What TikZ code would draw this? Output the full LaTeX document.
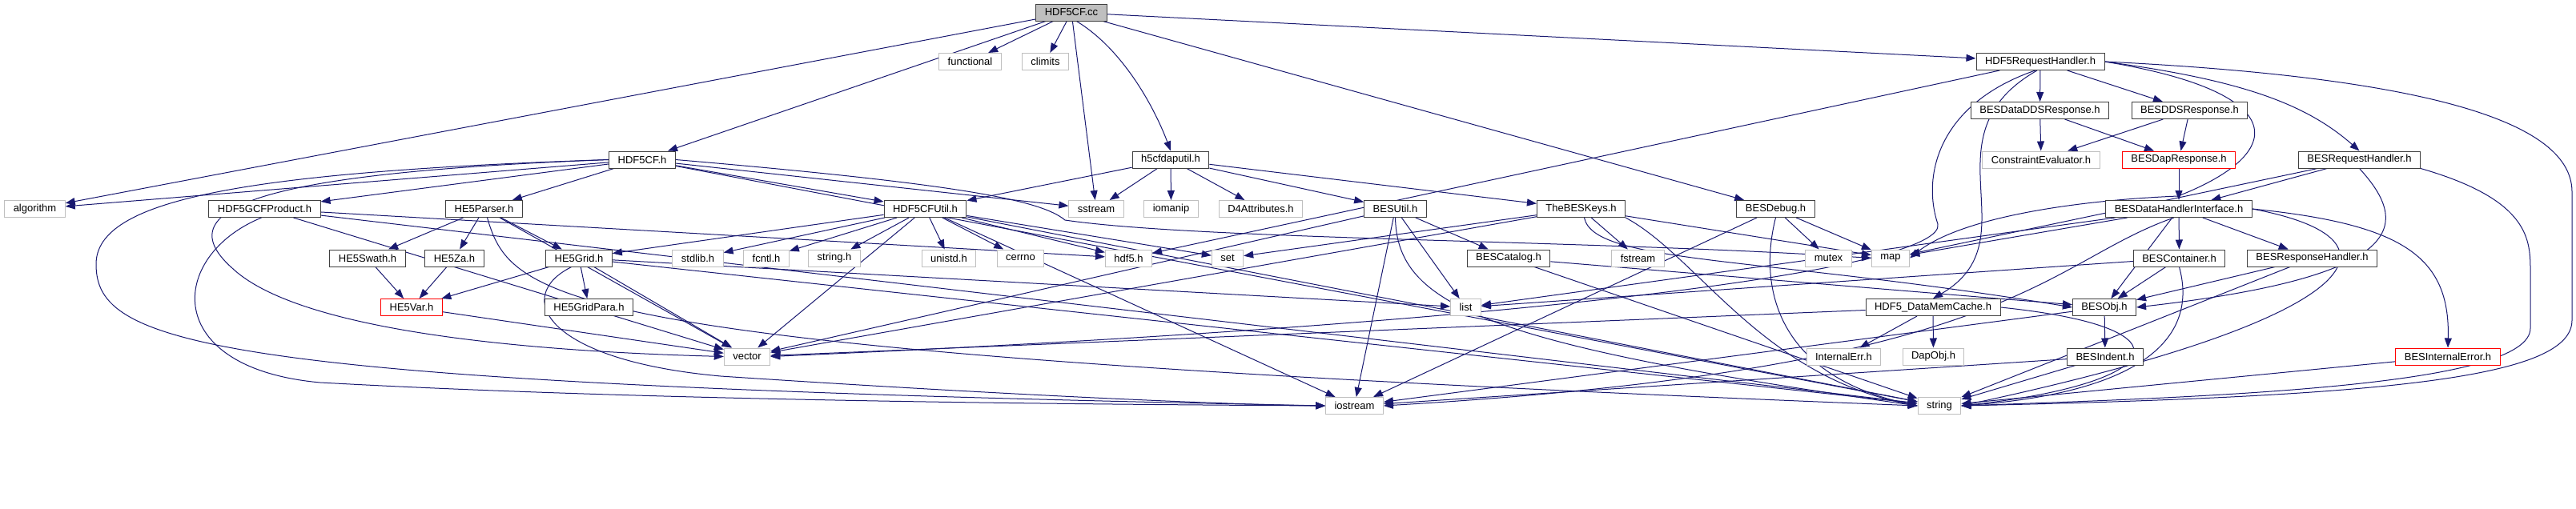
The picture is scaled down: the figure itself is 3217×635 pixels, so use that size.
\documentclass[tikz,border=0pt]{standalone}
\usepackage{fontspec}
\setmainfont{Liberation Sans}
\usetikzlibrary{arrows.meta,backgrounds}
\definecolor{dxblue}{HTML}{191970}

\begin{document}
\begin{tikzpicture}
[x=1pt, y=-1pt, font=\fontsize{13}{15}\selectfont, >={Triangle[length=12pt,width=9pt]}]
\tikzstyle{file}=[draw=black!75, line width=1pt, fill=white, inner xsep=11pt, inner ysep=0pt, minimum height=21pt]
\tikzstyle{sys}=[file, draw=black!25]
\tikzstyle{bad}=[file, draw=red]
\tikzstyle{root}=[file, fill=black!25]
\tikzstyle{inc}=[->, draw=dxblue, line width=1pt]
\useasboundingbox (0,0) rectangle (3217,635);

\node[root]	(cc)	at (1338,15.5)	{HDF5CF.cc};

\node[sys]	(functional)	at (1211.5,77)	{functional};
\node[sys]	(climits)	at (1305.5,77)	{climits};
\node[file]	(reqh)	at (2548,77)	{HDF5RequestHandler.h};

\node[file]	(ddsdata)	at (2547.5,138)	{BESDataDDSResponse.h};
\node[file]	(ddsresp)	at (2734.5,138)	{BESDDSResponse.h};

\node[file]	(hcf)	at (802,199.5)	{HDF5CF.h};
\node[file]	(daputil)	at (1462,199.5)	{h5cfdaputil.h};
\node[sys]	(constr)	at (2549,199.5)	{ConstraintEvaluator.h};
\node[bad]	(dapresp)	at (2721,199.5)	{BESDapResponse.h};
\node[file]	(breqh)	at (2946.5,199.5)	{BESRequestHandler.h};

\node[sys]	(algorithm)	at (43.5,261)	{algorithm};
\node[file]	(gcf)	at (330.5,261)	{HDF5GCFProduct.h};
\node[file]	(parser)	at (604.5,261)	{HE5Parser.h};
\node[file]	(cfutil)	at (1155.5,261)	{HDF5CFUtil.h};
\node[sys]	(sstream)	at (1369,261)	{sstream};
\node[sys]	(iomanip)	at (1462.5,261)	{iomanip};
\node[sys]	(d4attr)	at (1574.5,261)	{D4Attributes.h};
\node[file]	(besutil)	at (1742.5,261)	{BESUtil.h};
\node[file]	(keys)	at (1974.5,261)	{TheBESKeys.h};
\node[file]	(debug)	at (2217.5,261)	{BESDebug.h};
\node[file]	(dhi)	at (2721,261)	{BESDataHandlerInterface.h};

\node[file]	(swath)	at (459,322.5)	{HE5Swath.h};
\node[file]	(za)	at (567.5,322.5)	{HE5Za.h};
\node[file]	(grid)	at (723,322.5)	{HE5Grid.h};
\node[sys]	(stdlib)	at (871.5,322.5)	{stdlib.h};
\node[sys]	(fcntl)	at (957,322.5)	{fcntl.h};
\node[sys]	(strh)	at (1042,322.5)	{string.h};
\node[sys]	(unistd)	at (1185,322.5)	{unistd.h};
\node[sys]	(cerrno)	at (1274.5,322.5)	{cerrno};
\node[sys]	(hdf5)	at (1409.5,322.5)	{hdf5.h};
\node[sys]	(set)	at (1533,322.5)	{set};
\node[file]	(catalog)	at (1884,322.5)	{BESCatalog.h};
\node[sys]	(fstream)	at (2045.5,322.5)	{fstream};
\node[sys]	(mutex)	at (2283.5,322.5)	{mutex};
\node[sys]	(map)	at (2361,322.5)	{map};
\node[file]	(container)	at (2721.5,322.5)	{BESContainer.h};
\node[file]	(resph)	at (2887.5,322.5)	{BESResponseHandler.h};

\node[bad]	(var)	at (514,384)	{HE5Var.h};
\node[file]	(gridpara)	at (735.5,384)	{HE5GridPara.h};
\node[sys]	(list)	at (1830.5,384)	{list};
\node[file]	(memcache)	at (2414,384)	{HDF5\_DataMemCache.h};
\node[file]	(obj)	at (2628,384)	{BESObj.h};

\node[sys]	(vector)	at (933,445.5)	{vector};
\node[sys]	(interr)	at (2302.5,445.5)	{InternalErr.h};
\node[sys]	(dapobj)	at (2414.5,445.5)	{DapObj.h};
\node[file]	(indent)	at (2629,445.5)	{BESIndent.h};
\node[bad]	(besinterr)	at (3057,445.5)	{BESInternalError.h};

\node[sys]	(iostream)	at (1691.5,507)	{iostream};
\node[sys]	(string)	at (2422,507)	{string};

\begin{pgfonlayer}{background}
% HDF5CF.cc
\draw[inc] (cc) -- (algorithm);
\draw[inc] (cc) -- (functional);
\draw[inc] (cc) -- (climits);
\draw[inc] (cc) -- (sstream);
\draw[inc] (cc) -- (hcf);
\draw[inc] (cc.-60) .. controls (1400,60) and (1440,130) .. (daputil.north);
\draw[inc] (cc) -- (reqh);
\draw[inc] (cc) -- (debug);

% HDF5CF.h
\draw[inc] (hcf) -- (algorithm);
\draw[inc] (hcf) -- (gcf);
\draw[inc] (hcf) -- (parser);
\draw[inc] (hcf) -- (cfutil);
\draw[inc] (hcf) -- (sstream);
\draw[inc] (hcf.east) .. controls (1200,230) and (1300,250) .. (1330,275) .. controls (1500,300) and (2000,300) .. (map.west);
\draw[inc] (hcf) -- (string);
\draw[inc] (hcf.west) .. controls (350,215) and (200,255) .. (290,335) .. controls (380,420) and (700,440) .. (vector.west);
\draw[inc] (hcf.west) .. controls (300,215) and (120,250) .. (120,330) .. controls (120,430) and (250,480) .. (iostream.west);

% HDF5GCFProduct.h
\draw[inc] (gcf) -- (hdf5);
\draw[inc] (gcf) -- (vector);
\draw[inc] (gcf) -- (string);
\draw[inc] (gcf.250) .. controls (210,320) and (200,460) .. (400,478) .. controls (800,500) and (1300,505) .. (iostream.west);

% HE5Parser.h
\draw[inc] (parser) -- (swath);
\draw[inc] (parser) -- (za);
\draw[inc] (parser) -- (grid);
\draw[inc] (parser) -- (vector);
\draw[inc] (parser.290) .. controls (640,380) and (700,440) .. (string.west);
\draw[inc] (swath) -- (var);
\draw[inc] (za) -- (var);
\draw[inc] (var) -- (vector);

% HE5Grid.h
\draw[inc] (grid) -- (var);
\draw[inc] (grid) -- (gridpara);
\draw[inc] (grid) -- (vector);
\draw[inc] (grid) -- (list);
\draw[inc] (grid) -- (string);
\draw[inc] (grid.230) .. controls (640,370) and (680,450) .. (900,470) .. controls (1200,490) and (1500,505) .. (iostream.west);

% HDF5CFUtil.h
\draw[inc] (cfutil) -- (grid);
\draw[inc] (cfutil) -- (stdlib);
\draw[inc] (cfutil) -- (fcntl);
\draw[inc] (cfutil) -- (strh);
\draw[inc] (cfutil) -- (unistd);
\draw[inc] (cfutil) -- (cerrno);
\draw[inc] (cfutil) -- (hdf5);
\draw[inc] (cfutil) -- (set);
\draw[inc] (cfutil) -- (vector);
\draw[inc] (cfutil) -- (iostream);
\draw[inc] (cfutil) -- (string);

% h5cfdaputil.h
\draw[inc] (daputil) -- (cfutil);
\draw[inc] (daputil) -- (sstream);
\draw[inc] (daputil) -- (iomanip);
\draw[inc] (daputil) -- (d4attr);
\draw[inc] (daputil) -- (besutil);
\draw[inc] (daputil) -- (keys);

% BESUtil.h, BESCatalog.h, TheBESKeys.h, BESDebug.h
\draw[inc] (besutil) -- (vector);
\draw[inc] (besutil) -- (iostream);
\draw[inc] (besutil) -- (list);
\draw[inc] (besutil) -- (catalog);
\draw[inc] (besutil.south) .. controls (1745,380) and (1850,430) .. (string.west);
\draw[inc] (catalog) -- (obj);
\draw[inc] (catalog) -- (string);
\draw[inc] (keys) -- (set);
\draw[inc] (keys) -- (vector);
\draw[inc] (keys) -- (map);
\draw[inc] (keys) -- (fstream);
\draw[inc] (keys.-70) .. controls (1990,330) and (2200,320) .. (obj.west);
\draw[inc] (keys.south east) .. controls (2120,320) and (2200,470) .. (string.west);
\draw[inc] (debug) -- (map);
\draw[inc] (debug) -- (mutex);
\draw[inc] (debug) -- (iostream);
\draw[inc] (debug.south) .. controls (2195,360) and (2220,470) .. (string.west);

% HDF5RequestHandler.h
\draw[inc] (reqh) -- (hdf5);
\draw[inc] (reqh) -- (ddsdata);
\draw[inc] (reqh) -- (ddsresp);
\draw[inc] (reqh.east) .. controls (2800,100) and (2880,130) .. (breqh.north);
\draw[inc] (reqh.250) .. controls (2400,170) and (2540,300) .. (memcache.north);
\draw[inc] (reqh.240) .. controls (2420,130) and (2400,220) .. (2420,280) .. controls (2430,330) and (2000,400) .. (vector.east);
\draw[inc] (reqh.east) .. controls (2860,115) and (2860,190) .. (2720,245) .. controls (2600,250) and (2450,270) .. (map.east);
\draw[inc] (reqh.east) .. controls (3100,100) and (3212,170) .. (3212,240) -- (3212,400) .. controls (3212,470) and (3000,495) .. (string.east);
\draw[inc] (ddsdata) -- (constr);
\draw[inc] (ddsdata) -- (dapresp);
\draw[inc] (ddsresp) -- (constr);
\draw[inc] (ddsresp) -- (dapresp);
\draw[inc] (dapresp) -- (dhi);

% BESRequestHandler.h
\draw[inc] (breqh) -- (dhi);
\draw[inc] (breqh) -- (map);
\draw[inc] (breqh.south) .. controls (3010,280) and (3010,345) .. (obj.east);
\draw[inc] (breqh.south east) .. controls (3160,250) and (3160,300) .. (3160,340) -- (3160,410) .. controls (3160,480) and (2800,495) .. (string.east);

% BESDataHandlerInterface.h
\draw[inc] (dhi) -- (map);
\draw[inc] (dhi) -- (list);
\draw[inc] (dhi) -- (obj);
\draw[inc] (dhi) -- (container);
\draw[inc] (dhi) -- (resph);
\draw[inc] (dhi.240) .. controls (2550,330) and (2520,460) .. (iostream.east);
\draw[inc] (dhi.east) .. controls (3000,280) and (3060,320) .. (besinterr.north);
\draw[inc] (dhi.east) .. controls (3020,300) and (2950,400) .. (string.east);
\draw[inc] (container) -- (list);
\draw[inc] (container) -- (obj);
\draw[inc] (container.south) .. controls (2745,420) and (2680,490) .. (string.east);
\draw[inc] (resph) -- (obj);
\draw[inc] (resph) -- (string);

% HDF5_DataMemCache.h, BESObj.h and below
\draw[inc] (memcache) -- (interr);
\draw[inc] (memcache) -- (dapobj);
\draw[inc] (memcache) -- (vector);
\draw[inc] (memcache.east) .. controls (2750,410) and (2700,480) .. (string.east);
\draw[inc] (obj) -- (indent);
\draw[inc] (obj) -- (iostream);
\draw[inc] (indent) -- (iostream);
\draw[inc] (indent) -- (string);
\draw[inc] (besinterr) -- (string);
\end{pgfonlayer}
\end{tikzpicture}
\end{document}
